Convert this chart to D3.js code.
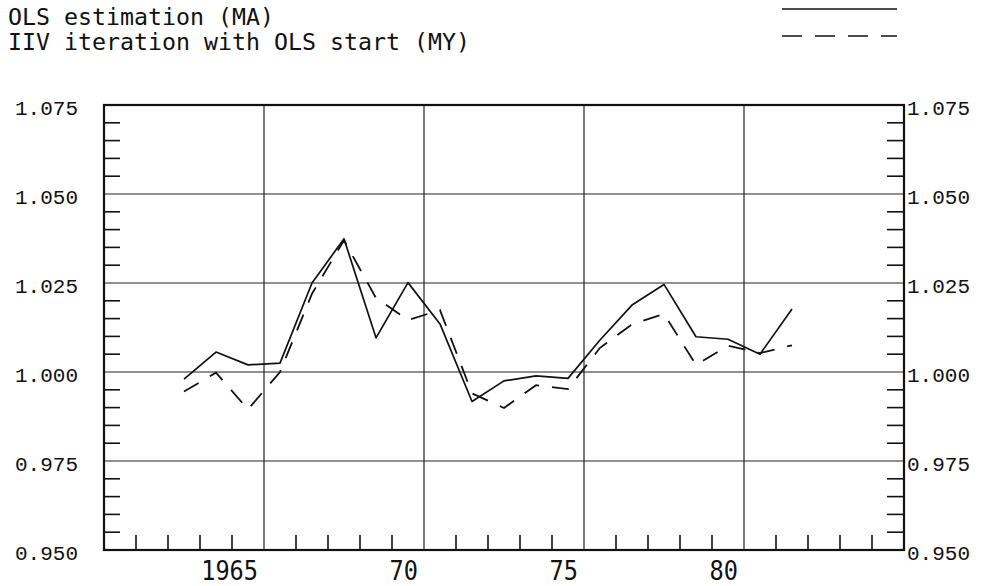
<!DOCTYPE html>
<html>
<head>
<meta charset="utf-8">
<script src="https://cdn.jsdelivr.net/npm/d3@7"></script>
<style>
	body { margin: 0; background: #fff; }
	svg { display: block; }
	.grid line { stroke: #222; stroke-width: 1.2; }
	.minor line { stroke: #111; stroke-width: 1.6; }
	.legend text { font-family: "DejaVu Sans Mono", monospace; font-size: 23px; fill: #111; }
	.ylab { font-family: "Liberation Mono", monospace; font-size: 21px; fill: #111; }
	.xlab { font-family: "DejaVu Sans Mono", monospace; font-size: 26px; fill: #111; }
</style>
</head>
<body>
<svg id="chart" width="991" height="586"></svg>
<script>
var years = [1963, 1964, 1965, 1966, 1967, 1968, 1969, 1970, 1971, 1972,
	1973, 1974, 1975, 1976, 1977, 1978, 1979, 1980, 1981, 1982];

// OLS estimation (MA), solid
var olsMA = [0.998, 1.0056, 1.002, 1.0025, 1.025, 1.0374, 1.0096, 1.0251, 1.0135, 0.9917,
	0.9975, 0.9989, 0.9982, 1.009, 1.0188, 1.0246, 1.0099, 1.0092, 1.005, 1.0177];

// IIV iteration with OLS start (MY), dashed
var iivMY = [0.9945, 0.9998, 0.9895, 1.000, 1.022, 1.037, 1.0208, 1.0146, 1.0174, 0.994,
	0.9899, 0.9963, 0.9952, 1.0068, 1.0134, 1.0163, 1.002, 1.0074, 1.0053, 1.0075];

var seriesNames = ["OLS estimation (MA)", "IIV iteration with OLS start (MY)"];
var yTicks = [0.950, 0.975, 1.000, 1.025, 1.050, 1.075];
var xLabelYears = [1965, 1970, 1975, 1980];
var xLabels = ["1965", "70", "75", "80"];

var margin = { top: 105, right: 87, bottom: 36, left: 104 },
	width = 991 - margin.left - margin.right,
	height = 586 - margin.top - margin.bottom;

var x = d3.scaleLinear().domain([1960.5, 1985.5]).range([0, width]);
var y = d3.scaleLinear().domain([0.950, 1.075]).range([height, 0]);

var svg = d3.select("#chart");
var g = svg.append("g")
	.attr("transform", "translate(" + margin.left + "," + margin.top + ")");

// grid lines at the labelled values
g.append("g").attr("class", "grid")
	.selectAll("line").data(yTicks.slice(1, -1)).enter().append("line")
	.attr("x1", 0).attr("x2", width)
	.attr("y1", function (d) { return y(d); }).attr("y2", function (d) { return y(d); });

g.append("g").attr("class", "grid")
	.selectAll("line").data(xLabelYears).enter().append("line")
	.attr("x1", function (d) { return x(d + 0.5); }).attr("x2", function (d) { return x(d + 0.5); })
	.attr("y1", 0).attr("y2", height);

// minor ticks, inside the frame
var yMinor = d3.range(0.955, 1.075, 0.005).filter(function (v) {
	return Math.abs(Math.round(v * 40) - v * 40) > 1e-6;
});
var xMinor = d3.range(1961.5, 1985, 1).filter(function (v) {
	return xLabelYears.indexOf(v - 0.5) < 0;
});

var minor = g.append("g").attr("class", "minor");
minor.selectAll(".yl").data(yMinor).enter().append("line")
	.attr("x1", 0).attr("x2", 16)
	.attr("y1", function (d) { return y(d); }).attr("y2", function (d) { return y(d); });
minor.selectAll(".yr").data(yMinor).enter().append("line")
	.attr("x1", width - 17).attr("x2", width)
	.attr("y1", function (d) { return y(d); }).attr("y2", function (d) { return y(d); });
minor.selectAll(".xb").data(xMinor).enter().append("line")
	.attr("x1", function (d) { return x(d); }).attr("x2", function (d) { return x(d); })
	.attr("y1", height - 15).attr("y2", height);

// frame
g.append("rect")
	.attr("width", width).attr("height", height)
	.style("fill", "none").style("stroke", "#111").style("stroke-width", 2.2);

// y labels on both sides
g.selectAll(".ylab-l").data(yTicks).enter().append("text")
	.attr("class", "ylab")
	.attr("x", -26).attr("y", function (d) { return y(d) + 10; })
	.attr("text-anchor", "end")
	.text(function (d) { return d3.format(".3f")(d); });

g.selectAll(".ylab-r").data(yTicks).enter().append("text")
	.attr("class", "ylab")
	.attr("x", width + 3).attr("y", function (d) { return y(d) + 10; })
	.text(function (d) { return d3.format(".3f")(d); });

// x labels
g.selectAll(".xlab").data(xLabelYears).enter().append("text")
	.attr("class", "xlab")
	.attr("x", function (d) { return x(d) + 10; })
	.attr("y", height + 30)
	.attr("text-anchor", "end")
	.attr("textLength", function (d, i) { return xLabels[i].length * 14.2; })
	.attr("lengthAdjust", "spacingAndGlyphs")
	.text(function (d, i) { return xLabels[i]; });

var line = d3.line()
	.x(function (d, i) { return x(years[i]); })
	.y(function (d) { return y(d); });

g.append("path").datum(olsMA)
	.attr("d", line)
	.style("fill", "none").style("stroke", "#111").style("stroke-width", 1.7)
	.style("stroke-linejoin", "round");

g.append("path").datum(iivMY)
	.attr("d", line)
	.style("fill", "none").style("stroke", "#111").style("stroke-width", 1.8)
	.style("stroke-dasharray", "17,13");

// legend
var legend = svg.append("g").attr("class", "legend");
legend.selectAll("text").data(seriesNames).enter().append("text")
	.attr("x", 8).attr("y", function (d, i) { return 25 + i * 25; })
	.attr("textLength", function (d) { return d.length * 14; })
	.attr("lengthAdjust", "spacingAndGlyphs")
	.text(function (d) { return d; });

legend.selectAll("line").data(seriesNames).enter().append("line")
	.attr("x1", 782).attr("x2", 897)
	.attr("y1", function (d, i) { return 9 + i * 27; })
	.attr("y2", function (d, i) { return 9 + i * 27; })
	.style("stroke", "#111").style("stroke-width", 1.6)
	.style("stroke-dasharray", function (d, i) { return i ? "20,13" : null; });
</script>
</body>
</html>
